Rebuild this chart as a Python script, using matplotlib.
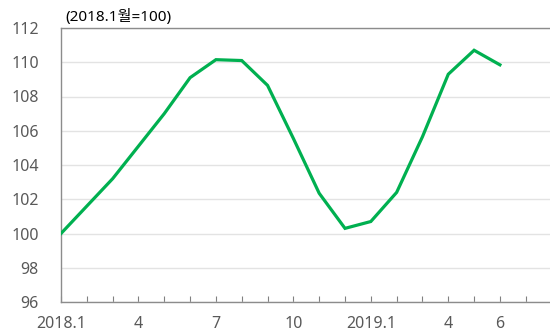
import matplotlib
matplotlib.use("Agg")
import matplotlib.pyplot as plt

plt.rcParams['font.family'] = ['Noto Sans', 'Noto Sans CJK KR', 'DejaVu Sans']

# Monthly index, Jan 2018 = 100 (2018.1 .. 2019.6)
months = list(range(18))
values = [100.0, 101.6, 103.2, 105.1, 107.0, 109.1, 110.15, 110.1, 108.65,
          105.55, 102.35, 100.3, 100.7, 102.4, 105.65, 109.3, 110.7, 109.85]
tick_positions = [0, 3, 6, 9, 12, 15, 17]
tick_labels = ['2018.1', '4', '7', '10', '2019.1', '4', '6']
y_ticks = [96, 98, 100, 102, 104, 106, 108, 110, 112]

fig = plt.figure(figsize=(5.5, 3.35), dpi=100)
ax = fig.add_axes([61 / 550, 33 / 335, 489 / 550, 274 / 335])

ax.plot(months, values, color='#00B050', linewidth=2.3, solid_joinstyle='miter',
        zorder=3)

ax.set_xlim(0, 18.94)
ax.set_ylim(96, 112)
ax.set_yticks(y_ticks)
ax.set_yticklabels([str(v) for v in y_ticks])
ax.yaxis.grid(True, color='#e3e3e3', linewidth=1.0)
ax.set_axisbelow(True)

ax.set_xticks(range(19), minor=True)
ax.set_xticks(tick_positions)
ax.set_xticklabels(tick_labels)
ax.tick_params(axis='x', which='both', direction='in', length=4.5, width=0.8,
               color='#808080', labelsize=11.5, labelcolor='#595959', pad=10)
ax.tick_params(axis='y', length=0, labelsize=11.5, labelcolor='#595959', pad=16)
for lab in ax.get_yticklabels():
    lab.set_horizontalalignment('right')

for side in ['left', 'bottom', 'top']:
    ax.spines[side].set_color('#8c8c8c')
    ax.spines[side].set_linewidth(1.0)
ax.spines['right'].set_visible(False)

fig.text(65 / 550, 1 - 17 / 335, '(2018.1월=100)', fontsize=11, color='#000000',
         ha='left', va='center')

fig.savefig('out.png', dpi=100)
